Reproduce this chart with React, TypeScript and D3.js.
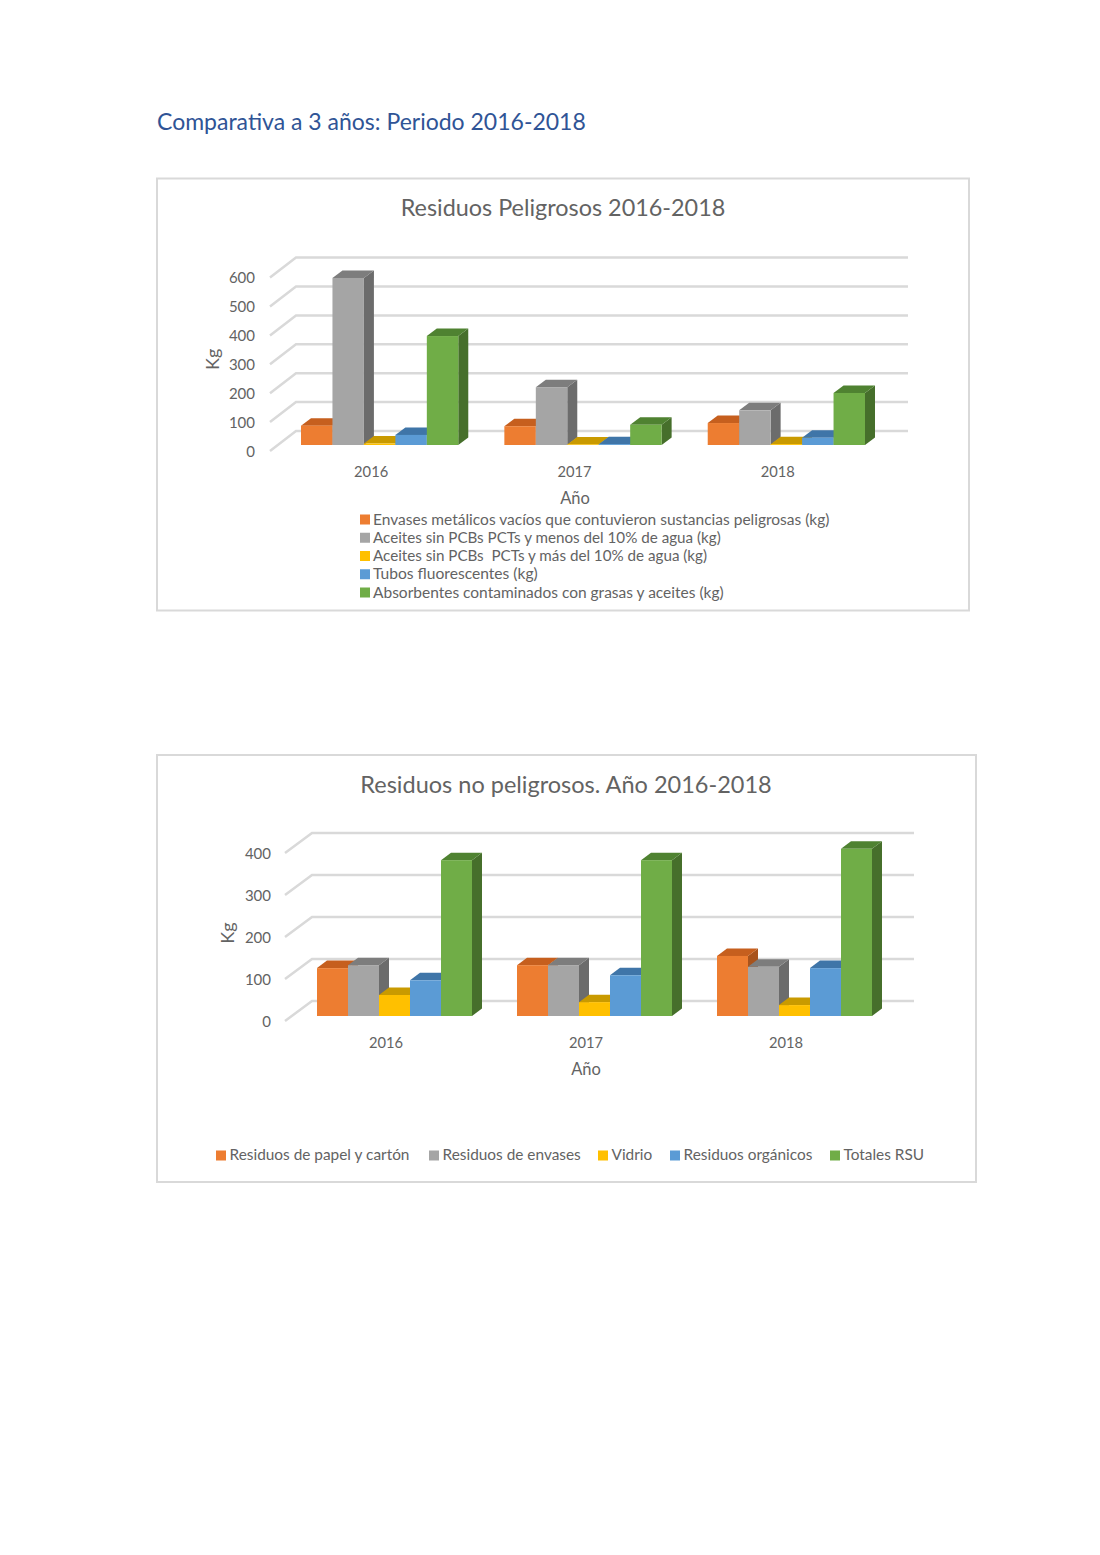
import React from 'react';
import * as d3 from 'd3';

const years = ['2016', '2017', '2018'];

const dangerSeries = [
  'Envases metálicos vacíos que contuvieron sustancias peligrosas (kg)',
  'Aceites sin PCBs PCTs y menos del 10% de agua (kg)',
  'Aceites sin PCBs  PCTs y más del 10% de agua (kg)',
  'Tubos fluorescentes (kg)',
  'Absorbentes contaminados con grasas y aceites (kg)',
];
const dangerValues = [
  [67, 65, 76],
  [578, 200, 120],
  [5, 2, 3],
  [35, 3, 25],
  [377, 70, 180],
];
const dangerTicks = [0, 100, 200, 300, 400, 500, 600];

const wasteSeries = [
  'Residuos de papel y cartón',
  'Residuos de envases',
  'Vidrio',
  'Residuos orgánicos',
  'Totales RSU',
];
const wasteValues = [
  [114, 121, 143],
  [121, 121, 117],
  [50, 33, 26],
  [85, 97, 114],
  [371, 371, 398],
];
const wasteTicks = [0, 100, 200, 300, 400];

const frontColors = ['#ed7d31', '#a5a5a5', '#ffc000', '#5b9bd5', '#70ad47'];
const topColors = ['#c65f1e', '#7d7d7d', '#c99a00', '#3f75a8', '#4f8231'];
const sideColors = ['#a8531c', '#6c6c6c', '#a88000', '#35658f', '#466f2b'];

const FONT = 'Lato, "Open Sans", sans-serif';
const TEXT = '#636363';
const DX = 10;
const DY = -7.5;

interface Chart3DProps {
  series: string[];
  values: number[][];
  ticks: number[];
  xRange: [number, number];
  inner: number;
  floorY: number;
  pxPerUnit: number;
  backUp: number;
  frontDown: number;
  tickX0: number;
  tickX1: number;
  gridEnd: number;
  labelX: number;
  yearY: number;
  kgX: number;
}

const Chart3D: React.FC<Chart3DProps> = (p) => {
  const maxTick = p.ticks[p.ticks.length - 1];
  const y = d3.scaleLinear().domain([0, maxTick]).range([p.floorY, p.floorY - maxTick * p.pxPerUnit]);
  const x0 = d3.scaleBand().domain(years).range(p.xRange).paddingInner(p.inner).paddingOuter(0);
  const x1 = d3.scaleBand().domain(p.series).range([0, x0.bandwidth()]);
  const poly = d3.line();

  return (
    <g>
      {p.ticks.map(t => (
        <g key={t}>
          <path
            d={poly([[p.tickX0, y(t) + p.frontDown], [p.tickX1, y(t) - p.backUp], [p.gridEnd, y(t) - p.backUp]]) || ''}
            fill="none" stroke="#d9d9d9" strokeWidth={2.5}
          />
          <text x={p.labelX} y={y(t) + p.frontDown + 5.5} textAnchor="end" fontSize={15} fill={TEXT}>{t}</text>
        </g>
      ))}
      {years.map((yr, yi) => (
        <g key={yr}>
          {p.series.map((s, si) => {
            const left = (x0(yr) || 0) + (x1(s) || 0);
            const right = left + x1.bandwidth();
            const top = y(p.values[si][yi]);
            const bottom = y(0);
            return (
              <g key={s}>
                <path d={poly([[right, bottom], [right + DX, bottom + DY], [right + DX, top + DY], [right, top]]) + 'Z'} fill={sideColors[si]} />
                <path d={poly([[left, top], [left + DX, top + DY], [right + DX, top + DY], [right, top]]) + 'Z'} fill={topColors[si]} />
                <rect x={left} y={top} width={x1.bandwidth()} height={bottom - top} fill={frontColors[si]} />
              </g>
            );
          })}
          <text x={(x0(yr) || 0) + x0.bandwidth() / 2 - 8.5} y={p.yearY} textAnchor="middle" fontSize={14.7} fill={TEXT}>{yr}</text>
        </g>
      ))}
      <text
        transform={`translate(${p.kgX},${(y(0) + y(maxTick)) / 2 + 1}) rotate(-90)`}
        textAnchor="middle" fontSize={18} fill={TEXT}
      >Kg</text>
    </g>
  );
};

export default function App() {
  // the PCB lines run a bit wide in this font, so they get a smaller size
  const legendSizes = [15.5, 15.2, 15.2, 15.6, 15.5];
  return (
    <svg
      width={1100} height={1555}
      style={{ position: 'absolute', left: 0, top: 0, background: '#fff' }}
      fontFamily={FONT}
    >
      <text x={157} y={129.5} fontSize={23} fill="#2f5496">Comparativa a 3 años: Periodo 2016-2018</text>

      {/* first chart */}
      <rect x={157} y={178.5} width={812} height={432} fill="#fff" stroke="#d9d9d9" strokeWidth={2} />
      <text x={563} y={216} textAnchor="middle" fontSize={23.4} fill={TEXT}>Residuos Peligrosos 2016-2018</text>
      <Chart3D
        series={dangerSeries} values={dangerValues} ticks={dangerTicks}
        xRange={[301, 865]} inner={0.2266} floorY={445} pxPerUnit={0.289}
        backUp={14} frontDown={6} tickX0={270} tickX1={296} gridEnd={908}
        labelX={255} yearY={477} kgX={219}
      />
      <text x={575} y={504} textAnchor="middle" fontSize={16.5} fill={TEXT}>Año</text>
      {dangerSeries.map((s, i) => (
        <g key={s}>
          <rect x={360} y={514.5 + i * 18.25} width={10} height={10} fill={frontColors[i]} />
          <text x={373} y={524.5 + i * 18.25} fontSize={legendSizes[i]} fill={TEXT} style={{ whiteSpace: 'pre' }}>{s}</text>
        </g>
      ))}

      {/* second chart */}
      <rect x={157} y={755} width={819} height={427} fill="#fff" stroke="#d9d9d9" strokeWidth={2} />
      <text x={566} y={793} textAnchor="middle" fontSize={23.5} fill={TEXT}>Residuos no peligrosos. Año 2016-2018</text>
      <Chart3D
        series={wasteSeries} values={wasteValues} ticks={wasteTicks}
        xRange={[317, 872]} inner={0.225} floorY={1016} pxPerUnit={0.42}
        backUp={15} frontDown={5} tickX0={285} tickX1={312} gridEnd={914}
        labelX={271} yearY={1047.5} kgX={234}
      />
      <text x={586} y={1075} textAnchor="middle" fontSize={16.5} fill={TEXT}>Año</text>
      {wasteSeries.map((s, i) => {
        const starts = [216, 429, 598, 670, 830];
        return (
          <g key={s}>
            <rect x={starts[i]} y={1150.5} width={10} height={10} fill={frontColors[i]} />
            <text x={starts[i] + 13.5} y={1160} fontSize={15.4} fill={TEXT}>{s}</text>
          </g>
        );
      })}
    </svg>
  );
}
